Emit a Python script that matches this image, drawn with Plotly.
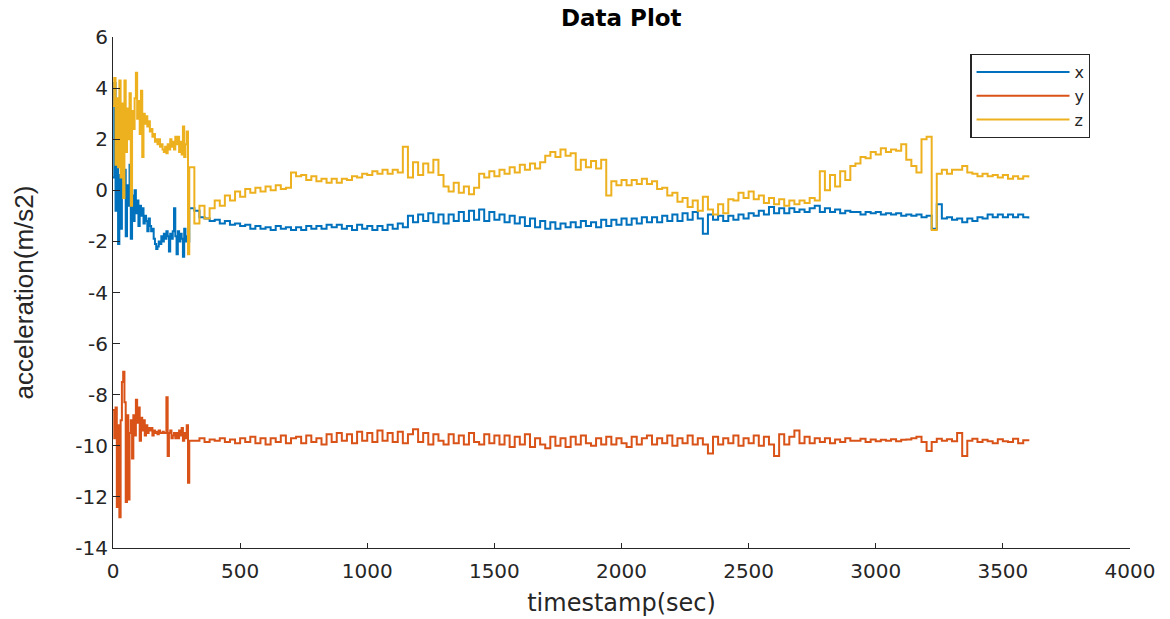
import numpy as np
import plotly.graph_objects as go

# Sample times: 5 s spacing during the settling phase, 20 s afterwards
t_early = np.arange(0, 301, 5)        # 61 samples
t_late = np.arange(320, 3601, 20)     # 165 samples

# Acceleration along x (m/s2)
x_early = [
    0.5, 4.2, -0.8, 2.0, -2.1, 0.6, -1.5, 1.5, -0.3, 0.8,
    -1.8, 0.2, -0.6, 1.0, -1.9, -0.2, -1.2, 0.0, -0.9, -0.4,
    -1.4, -0.6, -1.0, -0.7, -1.3, -1.0, -1.2, -1.6, -1.1, -1.4,
    -1.6, -1.5, -1.9, -2.1, -2.3, -2.2, -2.0, -2.1, -1.8, -2.0,
    -1.7, -1.9, -1.6, -1.8, -2.4, -1.7, -1.9, -1.6, -0.7, -1.8,
    -2.5, -1.6, -2.0, -1.7, -1.9, -2.6, -1.5, -2.0, -1.8, -2.0,
    -0.7,
]
x_late = [
    -0.8, -1.05, -1.1, -1.2, -1.15, -1.3, -1.2, -1.35, -1.3, -1.4,
    -1.35, -1.5, -1.4, -1.5, -1.45, -1.55, -1.4, -1.5, -1.45, -1.55,
    -1.45, -1.55, -1.4, -1.5, -1.4, -1.5, -1.35, -1.45, -1.35, -1.5,
    -1.4, -1.55, -1.35, -1.5, -1.4, -1.55, -1.4, -1.55, -1.35, -1.5,
    -1.3, -1.45, -1.0, -1.25, -0.95, -1.2, -0.9, -1.25, -0.95, -1.3,
    -0.95, -1.2, -0.85, -1.2, -0.8, -1.15, -0.75, -1.2, -0.85, -1.15,
    -0.95, -1.25, -1.0, -1.3, -1.05, -1.4, -1.1, -1.45, -1.2, -1.5,
    -1.25, -1.5, -1.3, -1.45, -1.25, -1.45, -1.2, -1.4, -1.25, -1.45,
    -1.15, -1.4, -1.15, -1.35, -1.1, -1.35, -1.1, -1.3, -1.05, -1.25,
    -1.05, -1.25, -1.0, -1.2, -0.95, -1.2, -0.9, -1.15, -0.85, -1.1,
    -1.7, -0.95, -1.15, -1.0, -1.2, -1.0, -1.15, -0.95, -1.1, -0.9,
    -1.0, -0.8, -0.95, -0.65, -0.9, -0.7, -0.9, -0.7, -0.85, -0.75,
    -0.85, -0.7, -0.6, -0.85, -0.7, -0.85, -0.75, -0.9, -0.8, -0.85,
    -0.85, -0.95, -0.85, -0.9, -0.85, -0.95, -0.9, -0.95, -0.9, -1.0,
    -0.95, -1.0, -0.95, -1.05, -1.0, -1.5, -0.55, -1.1, -1.05, -1.15,
    -1.1, -1.25, -1.1, -1.2, -1.05, -1.1, -0.95, -1.05, -0.95, -1.05,
    -0.95, -1.05, -0.95, -1.05, -1.1,
]

# Acceleration along y (m/s2)
y_early = [
    -8.6, -9.7, -8.5, -12.4, -9.2, -12.8, -9.0, -7.5, -7.1, -8.3,
    -12.2, -8.8, -12.1, -9.5, -9.0, -10.5, -8.8, -9.6, -8.2, -9.1,
    -8.5, -9.8, -8.9, -9.4, -9.0, -9.6, -9.2, -9.5, -9.3, -9.4,
    -9.3, -9.6, -9.4, -9.5, -9.45, -9.55, -9.4, -9.5, -9.5, -9.45,
    -9.5, -9.5, -8.1, -10.4, -9.5, -9.4, -9.7, -9.6, -9.5, -9.7,
    -9.5, -9.7, -9.4, -9.6, -9.3, -9.8, -9.5, -9.7, -9.2, -11.45,
    -9.8,
]
y_late = [
    -9.8, -9.7, -9.85, -9.75, -9.8, -9.7, -9.85, -9.75, -9.9, -9.7,
    -9.85, -9.65, -9.9, -9.7, -9.95, -9.7, -9.85, -9.6, -9.9, -9.7,
    -9.65, -9.9, -9.6, -9.85, -9.7, -9.95, -9.55, -9.85, -9.5, -9.8,
    -9.55, -9.9, -9.45, -9.8, -9.5, -9.85, -9.4, -9.8, -9.5, -9.85,
    -9.45, -9.9, -9.55, -9.35, -9.85, -9.5, -9.95, -9.55, -9.8, -9.95,
    -9.55, -9.9, -9.6, -9.95, -9.5, -9.85, -9.95, -9.55, -9.9, -9.6,
    -9.95, -9.6, -10.05, -9.65, -9.95, -9.55, -10.05, -9.7, -9.95, -10.1,
    -9.65, -10.0, -9.7, -10.05, -9.65, -9.95, -9.6, -9.9, -10.0, -9.7,
    -9.95, -9.65, -9.95, -9.7, -9.9, -10.05, -9.65, -9.95, -9.7, -9.6,
    -9.95, -9.7, -9.9, -9.6, -10.0, -9.7, -9.9, -9.6, -9.95, -9.7,
    -9.95, -10.3, -9.65, -9.95, -9.7, -9.9, -9.6, -10.0, -9.7, -9.9,
    -9.6, -10.0, -9.65, -9.95, -10.4, -9.55, -9.95, -9.65, -9.4, -9.9,
    -9.65, -9.9, -9.7, -9.85, -9.7, -9.9, -9.75, -9.85, -9.7, -9.8,
    -9.8, -9.72, -9.85, -9.75, -9.82, -9.76, -9.8, -9.74, -9.82, -9.76,
    -9.75, -9.7, -9.65, -9.85, -10.2, -9.85, -9.72, -9.8, -9.74, -9.82,
    -9.5, -10.4, -9.8, -9.72, -9.85, -9.76, -9.82, -9.9, -9.74, -9.82,
    -9.85, -9.72, -9.9, -9.78, -9.82,
]

# Acceleration along z (m/s2)
z_early = [
    3.3, 4.4, 1.0, 3.6, 0.9, 4.3, 0.5, 3.4, -0.3, 4.3,
    1.5, 3.2, 2.0, 3.8, -0.6, 3.1, 2.4, 3.6, 4.6, 2.8,
    3.5, 2.2, 3.9, 1.3, 3.0, 2.6, 2.9, 2.5, 2.7, 2.3,
    2.4, 2.1, 2.2, 1.9, 2.0, 1.8, 2.0, 1.7, 1.8, 1.6,
    1.5, 1.7, 1.45, 1.8, 1.6, 2.0, 1.7, 1.9, 1.6, 2.1,
    1.8, 2.1, 1.5, 1.9, 1.4, 2.5, 1.3, 1.8, 2.3, -2.5,
    0.9,
]
z_late = [
    -1.3, -0.6, -1.1, -0.7, -0.4, -0.6, -0.2, -0.4, -0.05, -0.25,
    0.05, -0.1, 0.1, -0.05, 0.15, 0.0, 0.2, 0.05, 0.1, 0.7,
    0.55, 0.6, 0.4, 0.55, 0.35, 0.45, 0.3, 0.45, 0.3, 0.45,
    0.4, 0.55, 0.5, 0.65, 0.6, 0.75, 0.65, 0.8, 0.65, 0.8,
    0.7, 1.7, 0.5, 1.1, 0.6, 1.05, 0.7, 1.2, 0.6, 0.15,
    -0.05, 0.3, -0.1, 0.15, -0.15, 0.1, 0.65, 0.5, 0.75, 0.55,
    0.8, 0.65, 0.9, 0.7, 1.0, 0.8, 1.05, 0.85, 1.1, 1.35,
    1.5, 1.3, 1.6, 1.35, 1.45, 0.8, 1.2, 0.9, 1.15, 0.85,
    1.2, -0.2, 0.35, 0.2, 0.4, 0.2, 0.4, 0.25, 0.45, 0.25,
    0.35, 0.05, 0.1, -0.2, -0.1, -0.45, -0.3, -0.65, -0.4, -0.8,
    -0.25, -0.75, -0.95, -0.55, -0.9, -0.35, -0.4, -0.1, -0.3, -0.05,
    -0.35, -0.2, -0.5, -0.3, -0.55, -0.35, -0.6, -0.4, -0.55, -0.4,
    -0.5, -0.3, -0.4, 0.75, 0.0, 0.6, 0.15, 0.75, 0.4, 0.95,
    1.05, 1.3, 1.25, 1.5, 1.4, 1.65, 1.5, 1.6, 1.55, 1.8,
    1.2, 0.95, 0.7, 2.0, 2.1, -1.55, 0.65, 0.8, 0.65, 0.8,
    0.8, 0.95, 0.7, 0.65, 0.55, 0.65, 0.55, 0.6, 0.5, 0.6,
    0.45, 0.55, 0.45, 0.55, 0.5,
]

# Axis ticks
x_ticks = [0, 500, 1000, 1500, 2000, 2500, 3000, 3500, 4000]
y_ticks = [-14, -12, -10, -8, -6, -4, -2, 0, 2, 4, 6]
y_tick_labels = ["-14", "-12", "-10", "-8", "-6", "-4", "-2", "0", "2", "4", "6"]

timestamps = np.concatenate([t_early, t_late])
series = [
    ("x", x_early + x_late, "#0072BD"),
    ("y", y_early + y_late, "#D95319"),
    ("z", z_early + z_late, "#EDB120"),
]

AXIS_COLOR = "#262626"
TICK_FONT = dict(family="DejaVu Sans", size=20, color=AXIS_COLOR)

fig = go.Figure()
for name, values, color in series:
    fig.add_trace(go.Scatter(
        x=timestamps, y=values, name=name, mode="lines",
        line=dict(color=color, width=2, shape="hv"),
    ))

fig.update_layout(
    width=1170, height=619,
    margin=dict(l=113, r=40, t=37, b=71),
    paper_bgcolor="white", plot_bgcolor="white",
    title=dict(
        text="<b>Data Plot</b>", x=0.531, xanchor="center",
        y=0.971, yanchor="middle", yref="container",
        font=dict(family="DejaVu Sans", size=23, color="black"),
    ),
    xaxis=dict(
        range=[0, 4000], tickmode="array", automargin=False,
        tickvals=x_ticks, ticktext=[str(v) for v in x_ticks],
        ticks="inside", ticklen=5, tickcolor=AXIS_COLOR, tickwidth=1,
        ticklabelstandoff=5,
        showline=True, linecolor=AXIS_COLOR, linewidth=1.2,
        showgrid=False, zeroline=False, tickfont=TICK_FONT,
        title=dict(text="timestamp(sec)", standoff=12,
                   font=dict(family="DejaVu Sans", size=24, color=AXIS_COLOR)),
    ),
    yaxis=dict(
        range=[-14, 6], tickmode="array", automargin=False,
        tickvals=y_ticks, ticktext=y_tick_labels,
        ticks="inside", ticklen=7, tickcolor=AXIS_COLOR, tickwidth=1,
        showline=True, linecolor=AXIS_COLOR, linewidth=1.2,
        showgrid=False, zeroline=False, tickfont=TICK_FONT,
        title=dict(text="acceleration(m/s2)", standoff=34,
                   font=dict(family="Liberation Sans", size=26, color=AXIS_COLOR)),
    ),
    legend=dict(
        x=0.843, y=0.967, xanchor="left", yanchor="top",
        bgcolor="white", bordercolor=AXIS_COLOR, borderwidth=1.2,
        itemwidth=93, tracegroupgap=0,
        font=dict(family="DejaVu Sans", size=16, color=AXIS_COLOR),
    ),
)

fig.write_html("out.html")
